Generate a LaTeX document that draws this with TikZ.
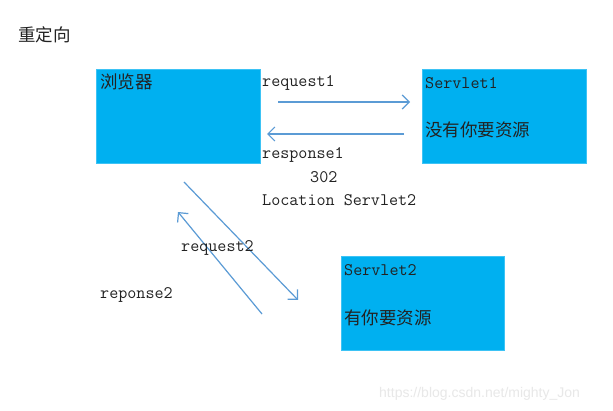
\documentclass[tikz,border=0pt]{standalone}
\usepackage{fontspec}
\newfontfamily\cjk{Noto Sans CJK SC}
\newfontfamily\wmfont{Liberation Sans}
\usetikzlibrary{arrows.meta,positioning}
\definecolor{boxblue}{HTML}{00B0F0}
\definecolor{boxedge}{HTML}{3DC3F5}
\definecolor{arrowblue}{HTML}{5B9BD5}
\definecolor{textgray}{HTML}{222222}
\tikzset{
  box/.style={draw=boxedge, fill=boxblue, anchor=north west, inner sep=0pt,
    minimum width=164pt, minimum height=94pt},
  zh/.style={anchor=west, inner sep=0pt, text=textgray, font=\cjk\fontsize{17.5}{20}\selectfont},
  en/.style={anchor=west, inner sep=0pt, text=textgray, font=\ttfamily\fontsize{17.6}{20}\selectfont},
  flow/.style={draw=arrowblue, line width=1.2pt, -{Straight Barb[length=7pt,width=14pt,line width=1.2pt]}},
}
\begin{document}
\begin{tikzpicture}[x=1pt, y=-1pt]
  \useasboundingbox[fill=white] (0,0) rectangle (613,411);
  \node[zh] (title) at (18,35) {重定向};

  % the three boxes
  \node[box] (browser) at (96,69) {};
  \node[box] (servlet1) at (422,69) {};
  \node[box, minimum width=163pt] (servlet2) at (341,256) {};

  \node[zh] (browsertxt) at ([shift={(4,13)}]browser.north west) {浏览器};
  \node[en] (s1name) at ([shift={(3,14)}]servlet1.north west) {Servlet1};
  \node[zh] (s1txt) at ([shift={(3,61)}]servlet1.north west) {没有你要资源};
  \node[en] (s2name) at ([shift={(3,14)}]servlet2.north west) {Servlet2};
  \node[zh] (s2txt) at ([shift={(3,62)}]servlet2.north west) {有你要资源};

  % arrows
  \coordinate (req1a) at (278,102);
  \coordinate (req1b) at (410,102);
  \coordinate (resp1a) at (404,134);
  \coordinate (resp1b) at (267,134);
  \coordinate (req2a) at (184,182);
  \coordinate (req2b) at (298,300);
  \coordinate (resp2a) at (262,314);
  \coordinate (resp2b) at (178,212);
  \draw[flow] (req1a) -- (req1b);
  \draw[flow] (resp1a) -- (resp1b);
  \draw[flow] (req2a) -- (req2b);
  \draw[flow] (resp2a) -- (resp2b);

  \node[en] (req1lbl) at (262,83) {request1};
  \node[en] (resp1lbl) at (262,155) {response1};
  \node[en] (code) at (310,177) {302};
  \node[en] (loc) at (262,200) {Location Servlet2};
  \node[en] (req2lbl) at (181,248) {request2};
  \node[en] (resp2lbl) at (100,295) {reponse2};

  \node[anchor=west, inner sep=0pt, text=black!9, font=\wmfont\fontsize{14}{16}\selectfont]
    (mark) at (379,394) {https://blog.csdn.net/mighty\_Jon};
\end{tikzpicture}
\end{document}
